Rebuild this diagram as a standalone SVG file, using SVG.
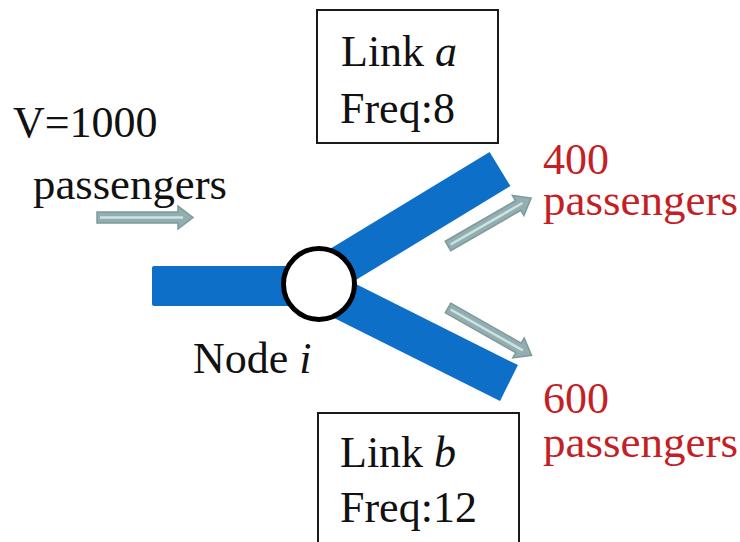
<svg xmlns="http://www.w3.org/2000/svg" xmlns:xlink="http://www.w3.org/1999/xlink" width="740" height="542" viewBox="0 0 740 542">
  <style>
    .txt { font-size: 44px; fill: #111; }
    .red { fill: #c41f26; }
    .box { fill: #fff; stroke: #1a1a1a; stroke-width: 2; }
    .bar { stroke: #0d6fc8; stroke-width: 40; stroke-linecap: butt; fill: none; }
    .flow-out { fill: #93aeb0; stroke: #7e9a9c; stroke-width: 1.5; stroke-linejoin: miter; }
    .flow-in { stroke: #cfe2e2; stroke-width: 2.5; fill: none; }
  </style>
  <defs>
    <!-- block arrow: tail centre at origin, pointing along +x, 96 long -->
    <g id="flow">
      <path class="flow-out" d="M0,-5.5 L81,-5.5 L81,-11.5 L96,0 L81,11.5 L81,5.5 L0,5.5 Z"/>
      <path class="flow-in" d="M3,0 L86,0"/>
    </g>
  </defs>

  <rect width="740" height="542" fill="#fff"/>

  <!-- links (blue bars) -->
  <g id="links">
    <rect x="152" y="266" width="170" height="40" rx="2" fill="#0d6fc8"/>
    <line class="bar" x1="319" y1="279" x2="500" y2="169"/>
    <line class="bar" x1="319" y1="288" x2="509" y2="383"/>
  </g>

  <!-- passenger flow arrows -->
  <g id="connectors">
    <use xlink:href="#flow" transform="translate(97,217.5)"/>
    <use xlink:href="#flow" transform="translate(448,246) rotate(-30)"/>
    <use xlink:href="#flow" transform="translate(448,308) rotate(29.5)"/>
  </g>

  <g font-family="Liberation Serif, DejaVu Serif, serif">
    <!-- node i -->
    <g id="node-i">
      <circle cx="319" cy="284" r="35.5" fill="#fff" stroke="#000" stroke-width="5"/>
      <text class="txt" x="193" y="373">Node <tspan font-style="italic">i</tspan></text>
    </g>

    <!-- link a label -->
    <g id="link-a">
      <rect class="box" x="317" y="10" width="181" height="133"/>
      <text class="txt" x="341" y="66">Link <tspan font-style="italic">a</tspan></text>
      <text class="txt" x="340" y="123">Freq:8</text>
    </g>

    <!-- link b label -->
    <g id="link-b">
      <rect class="box" x="318" y="413" width="201" height="150"/>
      <text class="txt" x="340" y="467">Link <tspan font-style="italic">b</tspan></text>
      <text class="txt" x="340" y="522">Freq:12</text>
    </g>

    <!-- demand in -->
    <g id="demand">
      <text class="txt" x="13" y="137">V=1000</text>
      <text class="txt" x="33" y="199" textLength="194" lengthAdjust="spacingAndGlyphs">passengers</text>
    </g>

    <!-- split onto each link -->
    <g id="split-a">
      <text class="txt red" x="543" y="174">400</text>
      <text class="txt red" x="543" y="215" textLength="195" lengthAdjust="spacingAndGlyphs">passengers</text>
    </g>
    <g id="split-b">
      <text class="txt red" x="543" y="413">600</text>
      <text class="txt red" x="543" y="457" textLength="195" lengthAdjust="spacingAndGlyphs">passengers</text>
    </g>
  </g>
</svg>
